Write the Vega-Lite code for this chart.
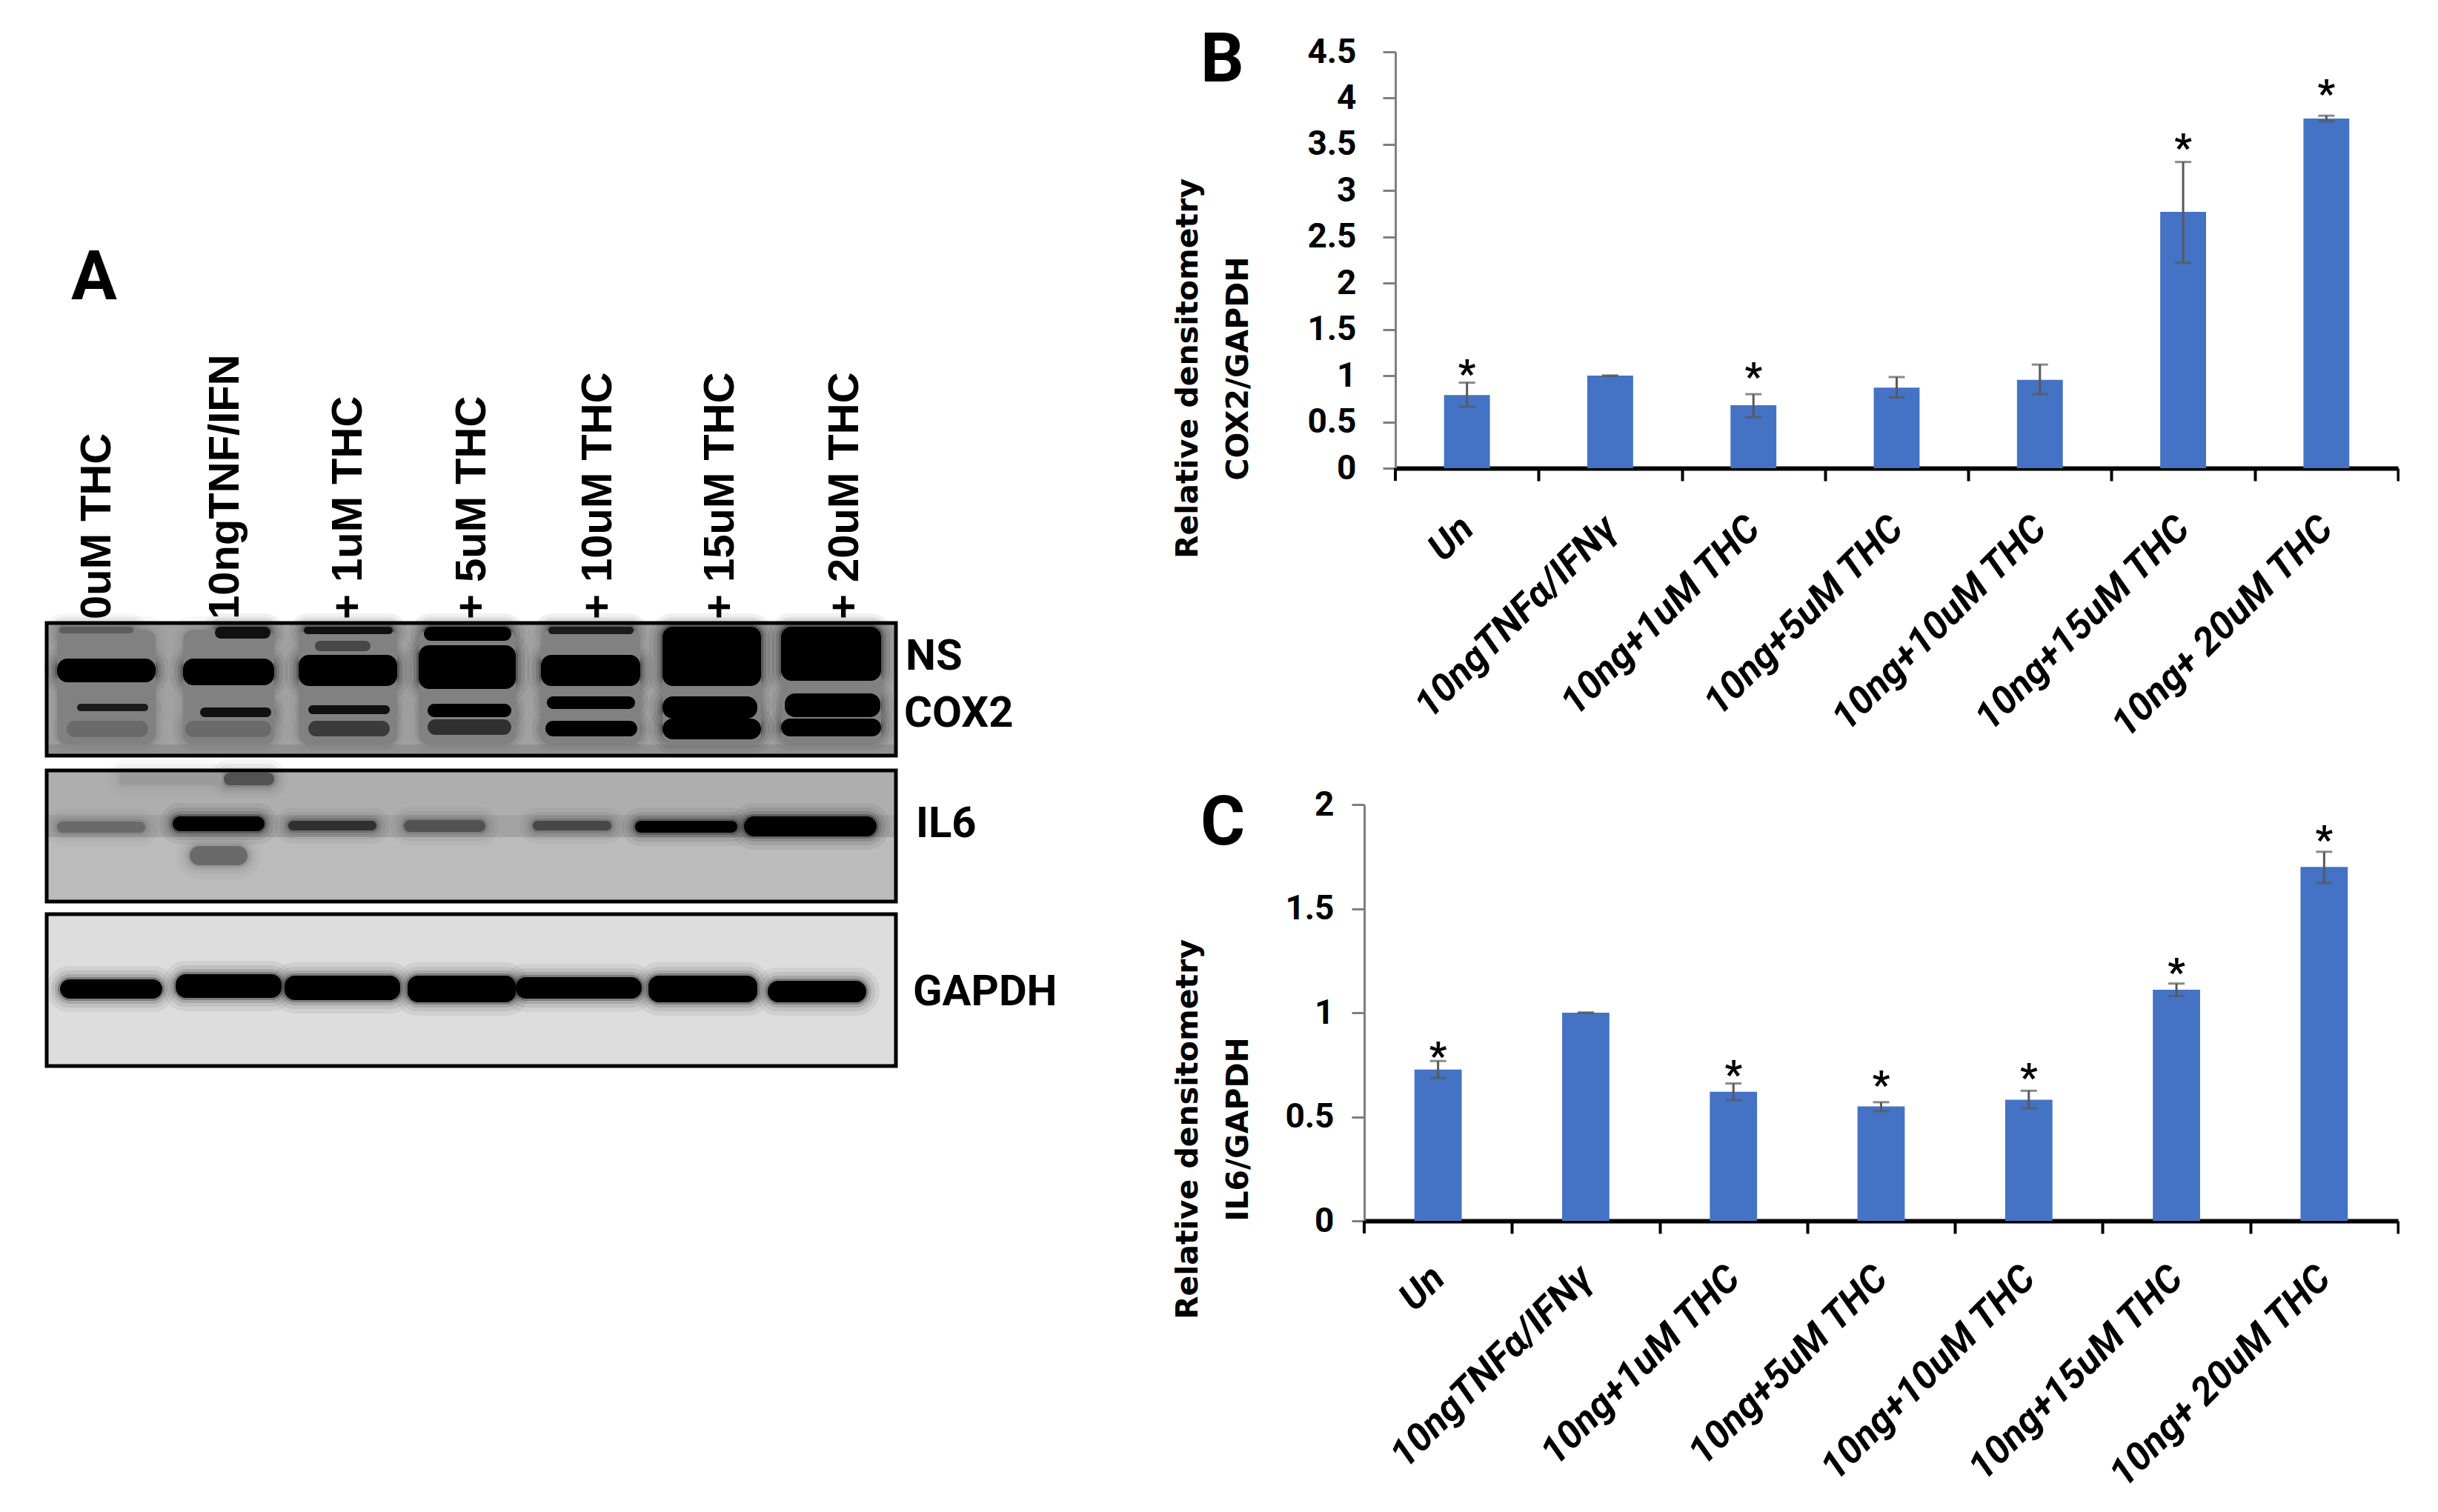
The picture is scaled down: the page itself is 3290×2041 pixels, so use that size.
{"$schema":"https://vega.github.io/schema/vega-lite/v6.json","padding":0,"background":"white","spacing":0,"bounds":"flush","config":{"view":{"stroke":null},"concat":{"spacing":0}},
"datasets":{
"frames":[{"blot":"COX2","x0":6.3,"x1":120.9,"y0":84.1,"y1":102,"density":0.33},{"blot":"IL6","x0":6.3,"x1":120.9,"y0":104,"y1":121.7,"density":0.24},{"blot":"GAPDH","x0":6.3,"x1":120.9,"y0":123.4,"y1":143.9,"density":0.12}],
"haze":[{"x0":6.3,"x1":120.9,"y0":100.5,"y1":102,"density":0.4},{"x0":6.3,"x1":120.9,"y0":104,"y1":110,"density":0.29},{"x0":6.3,"x1":120.9,"y0":110,"y1":113,"density":0.33}],
"bands":[
{"x0":7.7,"x1":21,"y0":85,"y1":100.5,"density":0.46},{"x0":24.7,"x1":37,"y0":85,"y1":100.5,"density":0.46},{"x0":40.3,"x1":53.6,"y0":85,"y1":100.5,"density":0.46},{"x0":56.5,"x1":69.6,"y0":85,"y1":100.5,"density":0.46},{"x0":73,"x1":86.4,"y0":85,"y1":100.5,"density":0.46},{"x0":89.4,"x1":102.7,"y0":85,"y1":100.5,"density":0.46},{"x0":105.4,"x1":118.9,"y0":85,"y1":100.5,"density":0.46},
{"x0":7.7,"x1":21,"y0":88.9,"y1":92.1,"density":1},{"x0":24.7,"x1":37,"y0":88.9,"y1":92.5,"density":1},{"x0":40.3,"x1":53.6,"y0":88.4,"y1":92.6,"density":1},{"x0":56.5,"x1":69.6,"y0":87.1,"y1":93,"density":1},{"x0":73,"x1":86.4,"y0":88.4,"y1":92.6,"density":1},{"x0":89.4,"x1":102.7,"y0":84.6,"y1":92.6,"density":1},{"x0":105.4,"x1":118.9,"y0":84.6,"y1":91.9,"density":1},
{"x0":8,"x1":18,"y0":84.6,"y1":85.5,"density":0.6},{"x0":29,"x1":36.5,"y0":84.6,"y1":86.2,"density":0.95},{"x0":41,"x1":53,"y0":84.6,"y1":85.6,"density":0.95},{"x0":42.5,"x1":50,"y0":86.5,"y1":87.9,"density":0.7},{"x0":57.2,"x1":69,"y0":84.6,"y1":86.5,"density":1},{"x0":74,"x1":85.5,"y0":84.6,"y1":85.6,"density":0.9},
{"x0":10.4,"x1":20,"y0":95,"y1":96,"density":0.9},{"x0":27,"x1":36.6,"y0":95.5,"y1":96.8,"density":0.95},{"x0":41.6,"x1":52.6,"y0":95.2,"y1":96.4,"density":0.95},{"x0":57.7,"x1":69,"y0":95,"y1":96.8,"density":1},{"x0":73.8,"x1":85.7,"y0":94,"y1":95.7,"density":1},{"x0":89.4,"x1":102.2,"y0":94,"y1":97,"density":1},{"x0":105.9,"x1":118.8,"y0":93.6,"y1":96.8,"density":1},
{"x0":9,"x1":20,"y0":97.3,"y1":99.5,"density":0.55},{"x0":25,"x1":36.6,"y0":97.3,"y1":99.5,"density":0.55},{"x0":41.6,"x1":52.6,"y0":97.3,"y1":99.4,"density":0.75},{"x0":57.7,"x1":69,"y0":97.1,"y1":99.2,"density":0.8},{"x0":73.6,"x1":86,"y0":97.3,"y1":99.4,"density":1},{"x0":89.4,"x1":102.7,"y0":97,"y1":99.8,"density":1},{"x0":105.4,"x1":118.9,"y0":97,"y1":99.4,"density":1},
{"x0":7.7,"x1":19.6,"y0":110.9,"y1":112.4,"density":0.55},{"x0":23.3,"x1":35.7,"y0":110.2,"y1":112.2,"density":1},{"x0":38.9,"x1":50.8,"y0":110.8,"y1":112.1,"density":0.8},{"x0":54.5,"x1":65.5,"y0":110.7,"y1":112.3,"density":0.65},{"x0":71.9,"x1":82.5,"y0":110.8,"y1":112.1,"density":0.7},{"x0":85.7,"x1":99.5,"y0":110.8,"y1":112.4,"density":1},{"x0":100.4,"x1":118.3,"y0":110.2,"y1":112.9,"density":1},{"x0":25.6,"x1":33.4,"y0":114.2,"y1":116.8,"density":0.55},{"x0":30.2,"x1":37,"y0":104.3,"y1":106,"density":0.65},{"x0":16,"x1":30,"y0":104.3,"y1":106,"density":0.36},
{"x0":8.1,"x1":21.9,"y0":132.2,"y1":134.8,"density":1},{"x0":23.7,"x1":38,"y0":131.5,"y1":134.7,"density":1},{"x0":38.4,"x1":54,"y0":131.7,"y1":135,"density":1},{"x0":55,"x1":69.6,"y0":131.7,"y1":135.3,"density":1},{"x0":69.6,"x1":86.6,"y0":131.9,"y1":134.8,"density":1},{"x0":87.5,"x1":102.2,"y0":131.7,"y1":135.3,"density":1},{"x0":103.6,"x1":116.9,"y0":132.4,"y1":135.3,"density":1}],
"lanes":[{"label":"0uM THC","x":13.2},{"label":"10ngTNF/IFN","x":30.5},{"label":"+ 1uM THC","x":47.1},{"label":"+ 5uM THC","x":63.8},{"label":"+ 10uM THC","x":80.8},{"label":"+ 15uM THC","x":97.3},{"label":"+ 20uM THC","x":114.1}],
"blotLabels":[{"label":"NS","x":122.2,"y":88.7},{"label":"COX2","x":122,"y":96.4},{"label":"IL6","x":123.6,"y":111.3},{"label":"GAPDH","x":123.2,"y":134}],
"panels":[{"label":"A","x":9.6,"y":37.6},{"label":"B","x":162,"y":8.2},{"label":"C","x":162,"y":111.2}],
"cox":[{"g":"Un","v":0.79,"lo":0.665,"hi":0.925,"mark":"*","star":1.09},{"g":"10ngTNFα/IFNγ","v":1,"lo":1,"hi":1},{"g":"10ng+1uM THC","v":0.68,"lo":0.55,"hi":0.8,"mark":"*","star":1.053},{"g":"10ng+5uM THC","v":0.87,"lo":0.765,"hi":0.985},{"g":"10ng+10uM THC","v":0.955,"lo":0.8,"hi":1.12},{"g":"10ng+15uM THC","v":2.77,"lo":2.22,"hi":3.31,"mark":"*","star":3.53},{"g":"10ng+ 20uM THC","v":3.78,"lo":3.75,"hi":3.81,"mark":"*","star":4.115}],
"il":[{"g":"Un","v":0.727,"lo":0.686,"hi":0.768,"mark":"*","star":0.823},{"g":"10ngTNFα/IFNγ","v":1,"lo":1,"hi":1},{"g":"10ng+1uM THC","v":0.62,"lo":0.58,"hi":0.66,"mark":"*","star":0.732},{"g":"10ng+5uM THC","v":0.55,"lo":0.527,"hi":0.57,"mark":"*","star":0.682},{"g":"10ng+10uM THC","v":0.582,"lo":0.54,"hi":0.625,"mark":"*","star":0.72},{"g":"10ng+15uM THC","v":1.11,"lo":1.08,"hi":1.14,"mark":"*","star":1.225},{"g":"10ng+ 20uM THC","v":1.7,"lo":1.623,"hi":1.773,"mark":"*","star":1.861}]},
"hconcat":[
{"width":1841,"height":2041,
"encoding":{"x":{"field":"x0","type":"quantitative","axis":null,"scale":{"domain":[0,184.1]}},"y":{"field":"y0","type":"quantitative","axis":null,"scale":{"domain":[204.1,0]}}},
"layer":[
{"data":{"name":"frames"},"mark":{"type":"rect"},"encoding":{"x2":{"field":"x1"},"y2":{"field":"y1"},"color":{"field":"density","type":"quantitative","legend":null,"scale":{"domain":[0,1],"range":["#ffffff","#000000"]}}}},
{"data":{"name":"haze"},"mark":{"type":"rect"},"encoding":{"x2":{"field":"x1"},"y2":{"field":"y1"},"color":{"field":"density","type":"quantitative","legend":null}}},
{"data":{"name":"bands"},"mark":{"type":"rect","cornerRadius":14,"strokeWidth":36,"opacity":0.05},"encoding":{"x2":{"field":"x1"},"y2":{"field":"y1"},"color":{"field":"density","type":"quantitative","legend":null},"stroke":{"field":"density","type":"quantitative","legend":null,"scale":{"domain":[0,1],"range":["#ffffff","#000000"]}}}},
{"data":{"name":"bands"},"mark":{"type":"rect","cornerRadius":14,"strokeWidth":24,"opacity":0.07},"encoding":{"x2":{"field":"x1"},"y2":{"field":"y1"},"color":{"field":"density","type":"quantitative","legend":null},"stroke":{"field":"density","type":"quantitative","legend":null,"scale":{"domain":[0,1],"range":["#ffffff","#000000"]}}}},
{"data":{"name":"bands"},"mark":{"type":"rect","cornerRadius":14,"strokeWidth":14,"opacity":0.12},"encoding":{"x2":{"field":"x1"},"y2":{"field":"y1"},"color":{"field":"density","type":"quantitative","legend":null},"stroke":{"field":"density","type":"quantitative","legend":null,"scale":{"domain":[0,1],"range":["#ffffff","#000000"]}}}},
{"data":{"name":"bands"},"mark":{"type":"rect","cornerRadius":14,"strokeWidth":6,"opacity":0.25},"encoding":{"x2":{"field":"x1"},"y2":{"field":"y1"},"color":{"field":"density","type":"quantitative","legend":null},"stroke":{"field":"density","type":"quantitative","legend":null,"scale":{"domain":[0,1],"range":["#ffffff","#000000"]}}}},
{"data":{"name":"bands"},"mark":{"type":"rect","cornerRadius":14},"encoding":{"x2":{"field":"x1"},"y2":{"field":"y1"},"color":{"field":"density","type":"quantitative","legend":null}}},
{"data":{"name":"frames"},"mark":{"type":"rect","fillOpacity":0,"stroke":"#000000","strokeWidth":5},"encoding":{"x2":{"field":"x1"},"y2":{"field":"y1"}}},
{"data":{"name":"lanes"},"mark":{"type":"text","angle":270,"align":"left","baseline":"middle","font":"Liberation Sans","fontWeight":"bold","fontSize":58,"color":"#000000","y":836},"encoding":{"x":{"field":"x","type":"quantitative"},"y":null,"text":{"field":"label"}}},
{"data":{"name":"blotLabels"},"mark":{"type":"text","align":"left","baseline":"middle","font":"Roboto","fontWeight":"bold","fontSize":58,"color":"#000000"},"encoding":{"x":{"field":"x","type":"quantitative"},"y":{"field":"y","type":"quantitative"},"text":{"field":"label"}}},
{"data":{"name":"panels"},"mark":{"type":"text","align":"left","baseline":"middle","font":"Roboto","fontWeight":"bold","fontSize":92,"color":"#000000"},"encoding":{"x":{"field":"x","type":"quantitative"},"y":{"field":"y","type":"quantitative"},"text":{"field":"label"}}}
]},
{"vconcat":[
{"width":1395,"height":632,"data":{"name":"cox"},
"encoding":{"x":{"field":"g","type":"nominal","sort":null,"title":null,"scale":{"range":[42,1395],"paddingInner":0.68,"paddingOuter":0.34},"axis":{"bandPosition":1,"tickOffset":65.7,"labelOffset":-65.7,"labelAngle":-45,"labelAlign":"right","labelBaseline":"middle","labelFont":"Roboto","labelFontStyle":"italic","labelFontWeight":"bold","labelFontSize":52,"labelColor":"#000000","labelPadding":56,"labelLimit":0,"domainColor":"#000000","domainWidth":6,"tickColor":"#000000","tickWidth":4,"tickSize":17,"labelOverlap":false}}},
"layer":[
{"mark":{"type":"bar","color":"#4472C4"},"encoding":{"y":{"field":"v","type":"quantitative","scale":{"domain":[0,4.5],"range":[632,70],"nice":false},"axis":{"values":[0,0.5,1,1.5,2,2.5,3,3.5,4,4.5],"format":"~g","grid":false,"offset":-42,"labelFont":"Roboto","labelFontWeight":"bold","labelFontSize":46,"labelColor":"#000000","labelPadding":36,"domainColor":"#7f7f7f","domainWidth":3,"tickColor":"#7f7f7f","tickWidth":3,"tickSize":17,"title":["Relative densitometry","COX2/GAPDH"],"titleFont":"DejaVu Sans","titleFontWeight":"bold","titleFontSize":41,"titleColor":"#000000","titleAngle":270,"titleLineHeight":68,"titleX":-259,"titleY":497}}}},
{"mark":{"type":"rule","color":"#595959","strokeWidth":3},"encoding":{"y":{"field":"lo","type":"quantitative"},"y2":{"field":"hi"}}},
{"mark":{"type":"tick","color":"#595959","thickness":3,"size":22},"encoding":{"y":{"field":"lo","type":"quantitative"}}},
{"mark":{"type":"tick","color":"#595959","thickness":3,"size":22},"encoding":{"y":{"field":"hi","type":"quantitative"}}},
{"transform":[{"filter":"datum.star != null"}],"mark":{"type":"text","font":"Roboto","fontWeight":"bold","fontSize":52,"color":"#000000","baseline":"middle","dy":10},"encoding":{"y":{"field":"star","type":"quantitative"},"text":{"field":"mark"}}},
{"transform":[{"filter":"datum.g == 'Un'"}],"mark":{"type":"rule","color":"#000000","strokeWidth":4,"xOffset":-65.7,"y":632,"y2":649,"clip":false},"encoding":{"x":{"field":"g","type":"nominal","sort":null,"bandPosition":0}}}
]},
{"width":1395,"height":562,"data":{"name":"il"},
"encoding":{"x":{"field":"g","type":"nominal","sort":null,"title":null,"scale":{"paddingInner":0.68,"paddingOuter":0.34},"axis":{"bandPosition":1,"tickOffset":67.8,"labelOffset":-67.8,"labelAngle":-45,"labelAlign":"right","labelBaseline":"middle","labelFont":"Roboto","labelFontStyle":"italic","labelFontWeight":"bold","labelFontSize":52,"labelColor":"#000000","labelPadding":52,"labelLimit":0,"domainColor":"#000000","domainWidth":6,"tickColor":"#000000","tickWidth":4,"tickSize":17,"labelOverlap":false}}},
"layer":[
{"mark":{"type":"bar","color":"#4472C4"},"encoding":{"y":{"field":"v","type":"quantitative","scale":{"domain":[0,2],"nice":false},"axis":{"values":[0,0.5,1,1.5,2],"format":"~g","grid":false,"labelFont":"Roboto","labelFontWeight":"bold","labelFontSize":46,"labelColor":"#000000","labelPadding":24,"domainColor":"#7f7f7f","domainWidth":3,"tickColor":"#7f7f7f","tickWidth":3,"tickSize":17,"title":["Relative densitometry","IL6/GAPDH"],"titleFont":"DejaVu Sans","titleFontWeight":"bold","titleFontSize":41,"titleColor":"#000000","titleAngle":270,"titleLineHeight":68,"titleX":-217,"titleY":438}}}},
{"mark":{"type":"rule","color":"#595959","strokeWidth":3},"encoding":{"y":{"field":"lo","type":"quantitative"},"y2":{"field":"hi"}}},
{"mark":{"type":"tick","color":"#595959","thickness":3,"size":22},"encoding":{"y":{"field":"lo","type":"quantitative"}}},
{"mark":{"type":"tick","color":"#595959","thickness":3,"size":22},"encoding":{"y":{"field":"hi","type":"quantitative"}}},
{"transform":[{"filter":"datum.star != null"}],"mark":{"type":"text","font":"Roboto","fontWeight":"bold","fontSize":52,"color":"#000000","baseline":"middle","dy":10},"encoding":{"y":{"field":"star","type":"quantitative"},"text":{"field":"mark"}}},
{"transform":[{"filter":"datum.g == 'Un'"}],"mark":{"type":"rule","color":"#000000","strokeWidth":4,"xOffset":-67.8,"y":562,"y2":579,"clip":false},"encoding":{"x":{"field":"g","type":"nominal","sort":null,"bandPosition":0}}}
]}
],"spacing":454,"bounds":"flush"}
]}
